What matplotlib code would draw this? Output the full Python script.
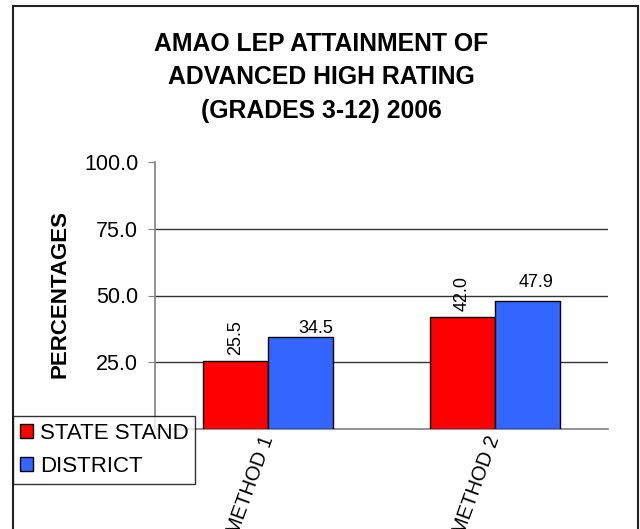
import numpy as np
import matplotlib
matplotlib.use("Agg")
import matplotlib.pyplot as plt
from matplotlib.patches import Rectangle, Patch

plt.rcParams["font.family"] = ["Liberation Sans", "DejaVu Sans"]

# data
methods = ["METHOD 1", "METHOD 2"]
state_stand = [25.5, 42.0]
district = [34.5, 47.9]
title_lines = ["AMAO LEP ATTAINMENT OF", "ADVANCED HIGH RATING", "(GRADES 3-12) 2006"]
yticks = [25, 50, 75, 100]

W, H = 640, 529
fig = plt.figure(figsize=(W / 100, H / 100), dpi=100)
ax = fig.add_axes([155 / W, 1 - 429 / H, (608 - 155) / W, (429 - 162) / H])

x = np.arange(len(methods))
width = 0.287
red = "#FF0000"
blue = "#3366FF"
ax.bar(x - width / 2, state_stand, width, color=red, edgecolor="black", linewidth=1, zorder=3)
ax.bar(x + width / 2, district, width, color=blue, edgecolor="black", linewidth=1, zorder=3)

# value labels (first series vertical, second horizontal as in the original)
for xi, v in zip(x, state_stand):
    ax.annotate(f"{v:.1f}", (xi - width / 2, v), xytext=(0, 4), textcoords="offset points",
                rotation=90, ha="center", va="bottom", fontsize=13)
ax.annotate(f"{district[0]:.1f}", (x[0] + width / 2, district[0]), xytext=(11, 0),
            textcoords="offset points", ha="center", va="bottom", fontsize=13)
ax.annotate(f"{district[1]:.1f}", (x[1] + width / 2, district[1]), xytext=(6, 7),
            textcoords="offset points", ha="center", va="bottom", fontsize=13)

ax.set_xlim(-0.5, len(methods) - 0.5)
ax.set_ylim(0, 100)
ax.set_yticks(yticks)
ax.set_yticklabels([f"{t:.1f}" for t in yticks], fontsize=15.5)
for t in yticks[:-1]:
    ax.axhline(t, color="#333333", linewidth=1, zorder=1)

ax.set_xticks(x)
ax.set_xticklabels(methods, rotation=70, ha="right", va="center",
                   rotation_mode="anchor", fontsize=14.5)
ax.tick_params(axis="x", length=0, pad=5)
ax.tick_params(axis="y", length=5, color="#808080", pad=7)

for s in ["top", "right"]:
    ax.spines[s].set_visible(False)
for s in ["left", "bottom"]:
    ax.spines[s].set_color("#808080")
    ax.spines[s].set_linewidth(1.2)

# title and y label as figure text
for i, line in enumerate(title_lines):
    fig.text(321 / W, 1 - (44 + 33.5 * i) / H, line, ha="center", va="center",
             fontsize=17.8, fontweight="bold")
fig.text(60 / W, 1 - 294 / H, "PERCENTAGES", rotation=90, ha="center", va="center",
         fontsize=16, fontweight="bold")

handles = [Patch(facecolor=red, edgecolor="black"), Patch(facecolor=blue, edgecolor="black")]
leg = fig.legend(handles, ["STATE STAND", "DISTRICT"], loc="upper left",
                 bbox_to_anchor=(13 / W, 1 - 416 / H), fontsize=16, frameon=True,
                 fancybox=False, borderpad=0.3, handlelength=0.6, handleheight=0.6,
                 handletextpad=0.3, labelspacing=0.55, borderaxespad=0)
leg.get_frame().set_edgecolor("black")
leg.get_frame().set_linewidth(1)
leg.set_zorder(10)

# outer chart border
fig.patches.append(Rectangle((13 / W, -0.02), (638 - 13) / W, 0.02 + 1 - 6 / H,
                             transform=fig.transFigure, fill=False, edgecolor="#222222",
                             linewidth=1.5))

fig.savefig("out.png", dpi=100)
